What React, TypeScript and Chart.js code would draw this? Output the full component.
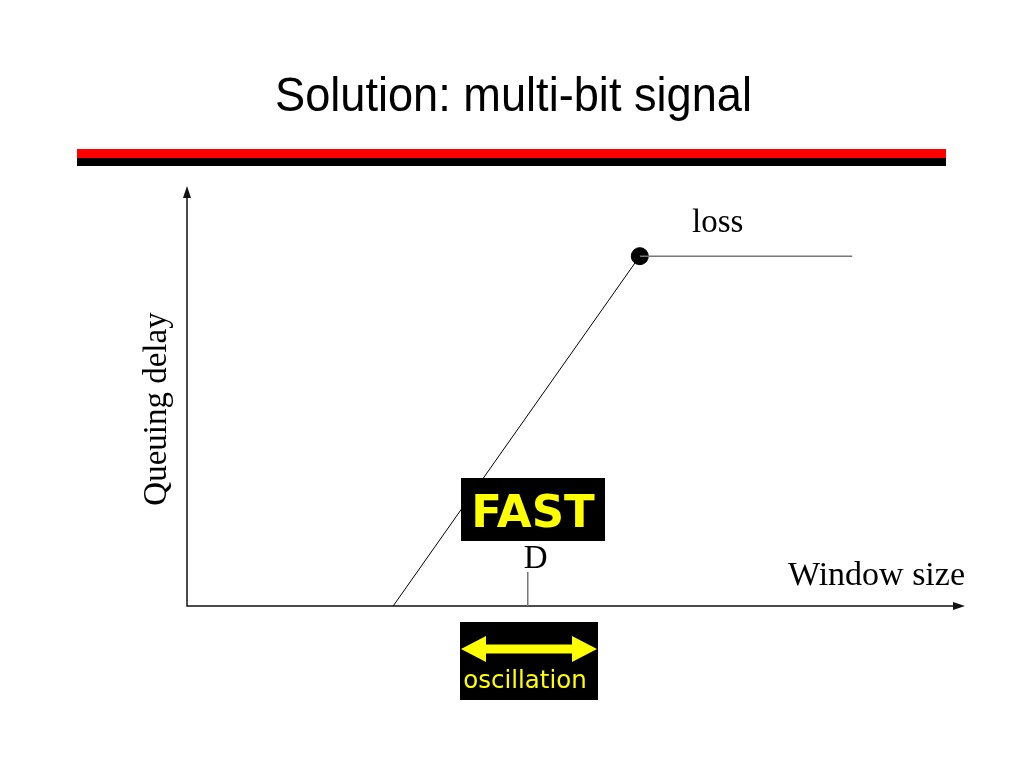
import React, { useEffect, useRef } from "react";
import { Chart, registerables } from "chart.js";

Chart.register(...registerables);

// Data (arbitrary units, x: window size 0..100, y: queuing delay 0..100)
const rampX = [26.5, 58.2];
const rampY = [0, 84.1];
const flatX = [58.2, 85.5];
const flatY = [84.1, 84.1];
const lossPoint = { x: 58.2, y: 84.1 };
const dTickX = [43.8, 43.8];
const dTickY = [0, 8.2];

const titleText = "Solution: multi-bit signal";
const xAxisLabel = "Window size";
const yAxisLabel = "Queuing delay";
const lossLabel = "loss";
const dLabel = "D";
const fastLabel = "FAST";
const oscLabel = "oscillation";

const toPts = (xs: number[], ys: number[]) => xs.map((x, i) => ({ x, y: ys[i] }));

const decorPlugin = {
  id: "decor",
  beforeDatasetsDraw(chart: any) {
    const ctx = chart.ctx as CanvasRenderingContext2D;
    const { left, right, top, bottom } = chart.chartArea;
    ctx.save();
    // title
    ctx.fillStyle = "#000";
    ctx.font = "49px 'Liberation Sans', Arial, sans-serif";
    ctx.textAlign = "left";
    ctx.textBaseline = "alphabetic";
    ctx.fillText(titleText, 275, 111, 477);
    // red/black bars
    ctx.fillStyle = "#ff0000";
    ctx.fillRect(77, 149, 869, 9);
    ctx.fillStyle = "#000000";
    ctx.fillRect(77, 158, 869, 8);

    // axes
    ctx.strokeStyle = "#111";
    ctx.lineWidth = 1.5;
    ctx.beginPath();
    ctx.moveTo(left, top + 6);
    ctx.lineTo(left, bottom);
    ctx.lineTo(right - 6, bottom);
    ctx.stroke();
    ctx.fillStyle = "#111";
    // y arrow
    ctx.beginPath();
    ctx.moveTo(left, top - 4);
    ctx.lineTo(left - 4, top + 8);
    ctx.lineTo(left + 4, top + 8);
    ctx.closePath();
    ctx.fill();
    // x arrow
    ctx.beginPath();
    ctx.moveTo(right, bottom);
    ctx.lineTo(right - 12, bottom - 4);
    ctx.lineTo(right - 12, bottom + 4);
    ctx.closePath();
    ctx.fill();
    ctx.restore();
  },
  afterDatasetsDraw(chart: any) {
    const ctx = chart.ctx as CanvasRenderingContext2D;
    const xs = chart.scales.x;
    ctx.save();
    ctx.fillStyle = "#000";
    const serif = "'Liberation Serif', 'Times New Roman', serif";
    ctx.font = `33px ${serif}`;
    ctx.textBaseline = "alphabetic";
    // loss label
    ctx.textAlign = "left";
    ctx.fillText(lossLabel, 692, 232);
    // Window size
    ctx.textAlign = "right";
    ctx.font = `34px ${serif}`;
    ctx.fillText(xAxisLabel, 965, 585);
    ctx.font = `33px ${serif}`;
    // D
    ctx.textAlign = "center";
    ctx.fillText(dLabel, xs.getPixelForValue(dTickX[0]) + 8, 568);
    // y label rotated
    ctx.save();
    ctx.translate(166, 409);
    ctx.rotate(-Math.PI / 2);
    ctx.textAlign = "center";
    ctx.fillText(yAxisLabel, 0, 0);
    ctx.restore();

    // FAST box
    ctx.fillStyle = "#000";
    ctx.fillRect(461, 478, 144, 63);
    ctx.fillStyle = "#ffff00";
    ctx.font = "bold 45px 'DejaVu Sans', Verdana, sans-serif";
    ctx.textAlign = "center";
    ctx.fillText(fastLabel, 533, 527);

    // oscillation box
    ctx.fillStyle = "#000";
    ctx.fillRect(460, 622, 138, 78);
    ctx.fillStyle = "#ffff00";
    const ay = 649;
    const l = 461, r = 597, hl = 25, hh = 13, sh = 4.5;
    ctx.beginPath();
    ctx.moveTo(l, ay);
    ctx.lineTo(l + hl, ay - hh);
    ctx.lineTo(l + hl, ay - sh);
    ctx.lineTo(r - hl, ay - sh);
    ctx.lineTo(r - hl, ay - hh);
    ctx.lineTo(r, ay);
    ctx.lineTo(r - hl, ay + hh);
    ctx.lineTo(r - hl, ay + sh);
    ctx.lineTo(l + hl, ay + sh);
    ctx.lineTo(l + hl, ay + hh);
    ctx.closePath();
    ctx.fill();
    ctx.font = "24.5px 'DejaVu Sans', Verdana, sans-serif";
    ctx.fillText(oscLabel, 525, 688);
    ctx.restore();
  },
};

export default function App() {
  const ref = useRef<HTMLCanvasElement>(null);
  useEffect(() => {
    if (!ref.current) return;
    const chart = new Chart(ref.current, {
      type: "scatter",
      data: {
        datasets: [
          {
            data: toPts(rampX, rampY),
            showLine: true,
            borderColor: "#000",
            borderWidth: 1,
            pointRadius: 0,
          },
          {
            data: toPts(flatX, flatY),
            showLine: true,
            borderColor: "#777",
            borderWidth: 1.5,
            pointRadius: 0,
          },
          {
            data: toPts(dTickX, dTickY),
            showLine: true,
            borderColor: "#777",
            borderWidth: 1.5,
            pointRadius: 0,
          },
          {
            data: [lossPoint],
            pointRadius: 8.5,
            pointBorderWidth: 1,
            pointBackgroundColor: "#000",
            pointBorderColor: "#000",
            showLine: false,
          },
        ],
      },
      options: {
        animation: false,
        responsive: false,
        layout: { padding: { left: 187, right: 59, top: 190, bottom: 162 } },
        scales: {
          x: { type: "linear", min: 0, max: 100, display: false },
          y: { type: "linear", min: 0, max: 100, display: false },
        },
        plugins: {
          legend: { display: false },
          tooltip: { enabled: false },
          title: { display: false },
        },
      },
      plugins: [decorPlugin],
    });
    return () => chart.destroy();
  }, []);
  return (
    <div style={{ position: "fixed", left: 0, top: 0, width: 1024, height: 768, background: "#fff" }}>
      <canvas ref={ref} width={1024} height={768} style={{ width: 1024, height: 768, display: "block" }} />
    </div>
  );
}
